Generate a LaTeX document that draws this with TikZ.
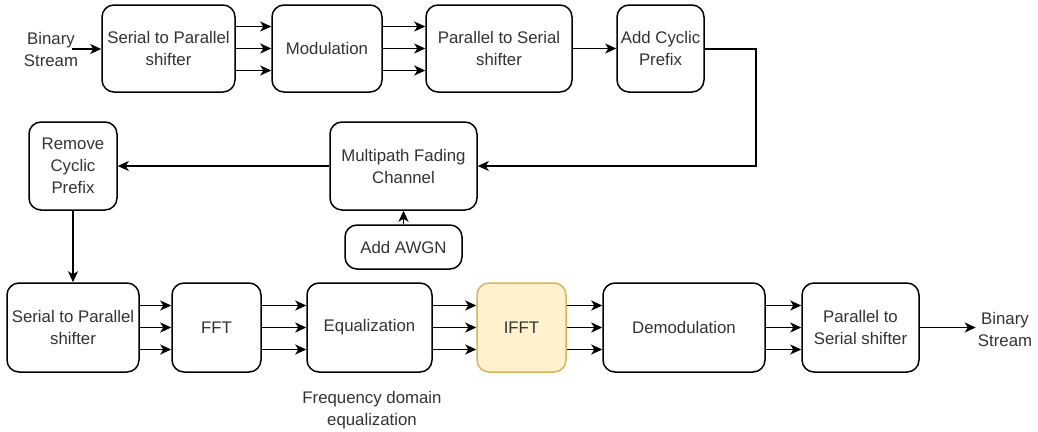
\documentclass[tikz,border=0pt]{standalone}
\usepackage{fontspec}
\setmainfont{Liberation Sans}
\usetikzlibrary{arrows.meta}
\definecolor{txt}{HTML}{333333}
\definecolor{ifftfill}{HTML}{FFF2CC}
\definecolor{ifftline}{HTML}{D6B656}
\tikzset{
  blk/.style={draw=black, line width=1.5pt, rounded corners=12pt, fill=white,
    inner sep=0pt, align=center, text=txt, font=\fontsize{16.8}{22}\selectfont},
  lbl/.style={inner sep=0pt, align=center, text=txt, font=\fontsize{16.8}{22}\selectfont},
  conn/.style={line width=1.5pt, draw=black, -{Stealth[length=11pt,width=10pt,inset=3pt]}},
}
\begin{document}
\begin{tikzpicture}[x=1pt,y=-1pt]
\useasboundingbox (0,0) rectangle (1038,431);

% transmitter chain
\node[lbl] (binin) at (51,49) {Binary\\Stream};
\coordinate (binin-end) at (72,49);
\node[blk, minimum width=133pt, minimum height=87pt] (sp1) at (168.5,48.5) {Serial to Parallel\\shifter};
\node[blk, minimum width=110pt, minimum height=87pt] (mod) at (327,48.5) {Modulation};
\node[blk, minimum width=146pt, minimum height=87pt] (ps1) at (499,48.5) {Parallel to Serial\\shifter};
\node[blk, minimum width=87pt, minimum height=87pt] (acp) at (660.5,48.5) {Add Cyclic\\Prefix};

% channel
\node[blk, minimum width=147pt, minimum height=88pt] (mfc) at (403.5,166) {Multipath Fading\\Channel};
\node[blk, minimum width=117pt, minimum height=44pt] (awgn) at (403.5,247) {Add AWGN};
\node[blk, minimum width=88pt, minimum height=88pt] (rcp) at (73,166) {Remove\\Cyclic\\Prefix};
\coordinate (bend1) at (756,49);
\coordinate (bend2) at (756,166);

% receiver chain
\node[blk, minimum width=132pt, minimum height=89pt] (sp2) at (73,327.5) {Serial to Parallel\\shifter};
\node[blk, minimum width=89pt, minimum height=89pt] (fft) at (216.5,327.5) {FFT};
\node[blk, minimum width=125pt, minimum height=89pt] (eq) at (369.5,327.5) {Equalization};
\node[blk, draw=ifftline, fill=ifftfill, minimum width=89pt, minimum height=89pt] (ifft) at (521.5,327.5) {IFFT};
\node[blk, minimum width=162pt, minimum height=89pt] (demod) at (684,327.5) {Demodulation};
\node[blk, minimum width=117pt, minimum height=89pt] (ps2) at (860.5,327.5) {Parallel to\\Serial shifter};
\node[lbl] (binout) at (1005,329) {Binary\\Stream};
\node[lbl] (fdeq) at (372,410) {Frequency domain\\equalization};

% serial links
\draw[conn] (binin-end) -- (sp1.west |- binin-end);
\draw[conn] (ps1.east) -- (acp.west);
\draw[conn] (acp.east |- bend1) -- (bend1) -- (bend2) -- (mfc.east);
\draw[conn] (mfc.west) -- (rcp.east);
\draw[conn] (awgn.north) -- (mfc.south);
\draw[conn] (rcp.south) -- (sp2.north);
\draw[conn] (ps2.east) -- ([xshift=-2pt]binout.west |- ps2.east);

% parallel links (three lanes each)
\foreach \a/\b in {sp1/mod, mod/ps1, sp2/fft, fft/eq, eq/ifft, ifft/demod, demod/ps2}{
  \foreach \d in {-22,0,22}{
    \draw[conn] ([yshift=-\d pt]\a.east) -- ([yshift=-\d pt]\b.west);
  }
}
\end{tikzpicture}
\end{document}
